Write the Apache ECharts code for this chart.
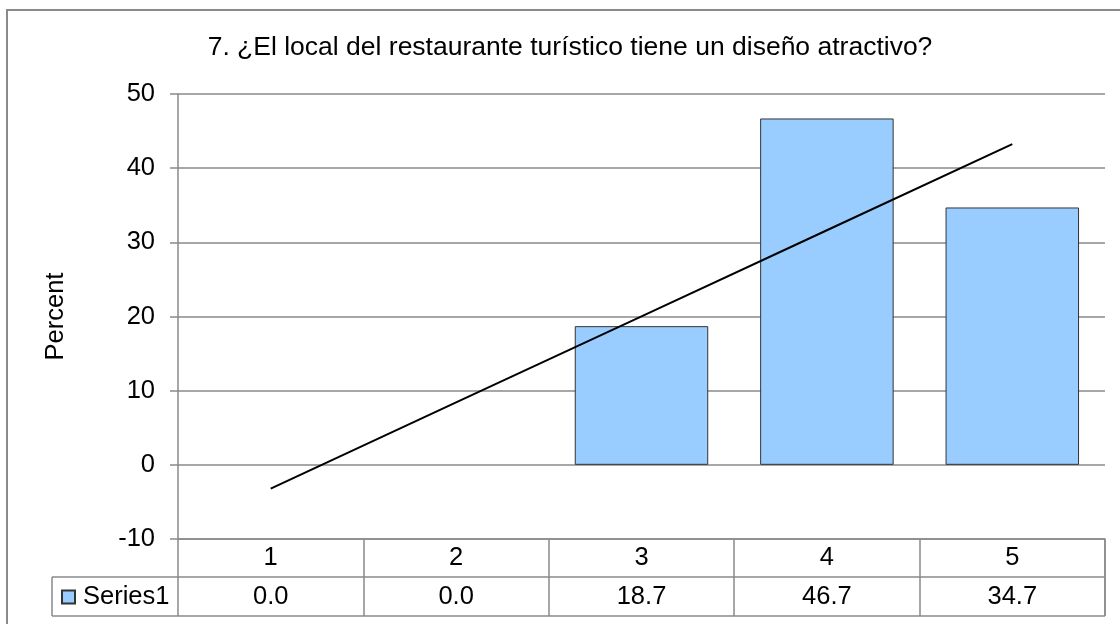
<!DOCTYPE html>
<html>
<head>
<meta charset="utf-8">
<title>Diseño atractivo del local</title>
<script src="https://cdn.jsdelivr.net/npm/echarts@6/dist/echarts.min.js"></script>
<style>
  html, body { margin: 0; padding: 0; background: #ffffff; }
  #chart { width: 1120px; height: 624px; }
</style>
</head>
<body>
<div id="chart"></div>
<script>
// Survey question and answers (scale 1-5), share of respondents in percent
const titleText = '7. ¿El local del restaurante turístico tiene un diseño atractivo?';
const categories = ['1', '2', '3', '4', '5'];
const seriesName = 'Series1';
const values = [0.0, 0.0, 18.7, 46.7, 34.7];
const yTicks = [-10, 0, 10, 20, 30, 40, 50];

// Least-squares linear trend over category positions 1..n
function linearTrend(ys) {
  const n = ys.length;
  const xs = ys.map((_, i) => i + 1);
  const mx = xs.reduce((a, b) => a + b, 0) / n;
  const my = ys.reduce((a, b) => a + b, 0) / n;
  let sxy = 0, sxx = 0;
  for (let i = 0; i < n; i++) {
    sxy += (xs[i] - mx) * (ys[i] - my);
    sxx += (xs[i] - mx) * (xs[i] - mx);
  }
  const slope = sxy / sxx;
  const icpt = my - slope * mx;
  return xs.map(x => +(icpt + slope * x).toFixed(3));
}
const trend = linearTrend(values);

const FONT = '"Liberation Sans", Arial, sans-serif';
const GRAY = '#8a8a8a';
const GRID = { left: 178, right: 15, top: 94, bottom: 85 };

const chart = echarts.init(document.getElementById('chart'), null, { renderer: 'canvas' });

// zero-height bars get no outline so they leave no stroke on the baseline
const barData = values.map(v => (v === 0 ? { value: v, itemStyle: { borderWidth: 0 } } : v));

const option = {
  backgroundColor: '#ffffff',
  animation: false,
  textStyle: { fontFamily: FONT },
  title: {
    text: titleText,
    left: 570,
    top: 34,
    textAlign: 'center',
    padding: 0,
    textStyle: { fontFamily: FONT, fontSize: 26.5, fontWeight: 'normal', color: '#000' }
  },
  legend: {
    data: [seriesName],
    left: 61,
    top: 584,
    padding: 0,
    itemWidth: 13,
    itemHeight: 13,
    icon: 'rect',
    textStyle: { fontFamily: FONT, fontSize: 25.5, color: '#000', padding: [0, 0, 0, 3] }
  },
  grid: Object.assign({ containLabel: false }, GRID),
  xAxis: [
    {
      type: 'category',
      data: categories,
      boundaryGap: true,
      axisLine: { onZero: false, lineStyle: { color: GRAY, width: 1.5 } },
      axisTick: { show: true, length: 77, alignWithLabel: false, lineStyle: { color: GRAY, width: 1.5 } },
      axisLabel: { margin: 19, verticalAlign: 'middle', fontFamily: FONT, fontSize: 25.5, color: '#000' },
      splitLine: { show: false }
    },
    {
      type: 'category',
      data: categories,
      position: 'bottom',
      boundaryGap: true,
      axisLine: { show: false, onZero: false },
      axisTick: { show: false },
      axisLabel: {
        margin: 58,
        verticalAlign: 'middle',
        fontFamily: FONT,
        fontSize: 25.5,
        color: '#000',
        formatter: (v, i) => values[i].toFixed(1)
      }
    }
  ],
  yAxis: {
    type: 'value',
    min: yTicks[0],
    max: yTicks[yTicks.length - 1],
    interval: 10,
    name: 'Percent',
    nameLocation: 'middle',
    nameGap: 109,
    nameRotate: 90,
    nameTextStyle: { fontFamily: FONT, fontSize: 25.5, color: '#000' },
    axisLine: { show: true, lineStyle: { color: GRAY, width: 1.5 } },
    axisTick: { show: true, length: 8, inside: false, lineStyle: { color: GRAY, width: 1.5 } },
    axisLabel: { margin: 23, fontFamily: FONT, fontSize: 25.5, color: '#000' },
    splitLine: { show: true, lineStyle: { color: GRAY, width: 1.5 } }
  },
  series: [
    {
      name: seriesName,
      type: 'bar',
      data: barData,
      barCategoryGap: '28%',
      itemStyle: { color: '#99ccff', borderColor: '#333333', borderWidth: 1 }
    },
    {
      name: 'Lineal (' + seriesName + ')',
      type: 'line',
      data: trend,
      symbol: 'none',
      lineStyle: { color: '#000000', width: 2 },
      z: 5
    }
  ]
};

chart.setOption(option);

// Data table frame below the plot and the outer chart border
const rect = chart.getModel().getComponent('grid').coordinateSystem.getRect();
const axisY = rect.y + rect.height;
const row2Top = axisY + 38;
const row2Bottom = axisY + 77;
const tableLeft = 52;
const tableRight = rect.x + rect.width;
const line = (x1, y1, x2, y2) => ({
  type: 'line',
  shape: { x1, y1, x2, y2 },
  style: { stroke: GRAY, lineWidth: 1.5 },
  silent: true
});
chart.setOption({
  graphic: [
    {
      type: 'rect',
      shape: { x: 7, y: 10, width: 1140, height: 700 },
      style: { fill: 'none', stroke: GRAY, lineWidth: 2 },
      silent: true
    },
    line(tableLeft, row2Top, tableRight, row2Top),
    line(tableLeft, row2Bottom, tableRight, row2Bottom),
    line(tableLeft, row2Top, tableLeft, row2Bottom),
    line(tableRight, axisY, tableRight, row2Bottom)
  ]
});
</script>
</body>
</html>
